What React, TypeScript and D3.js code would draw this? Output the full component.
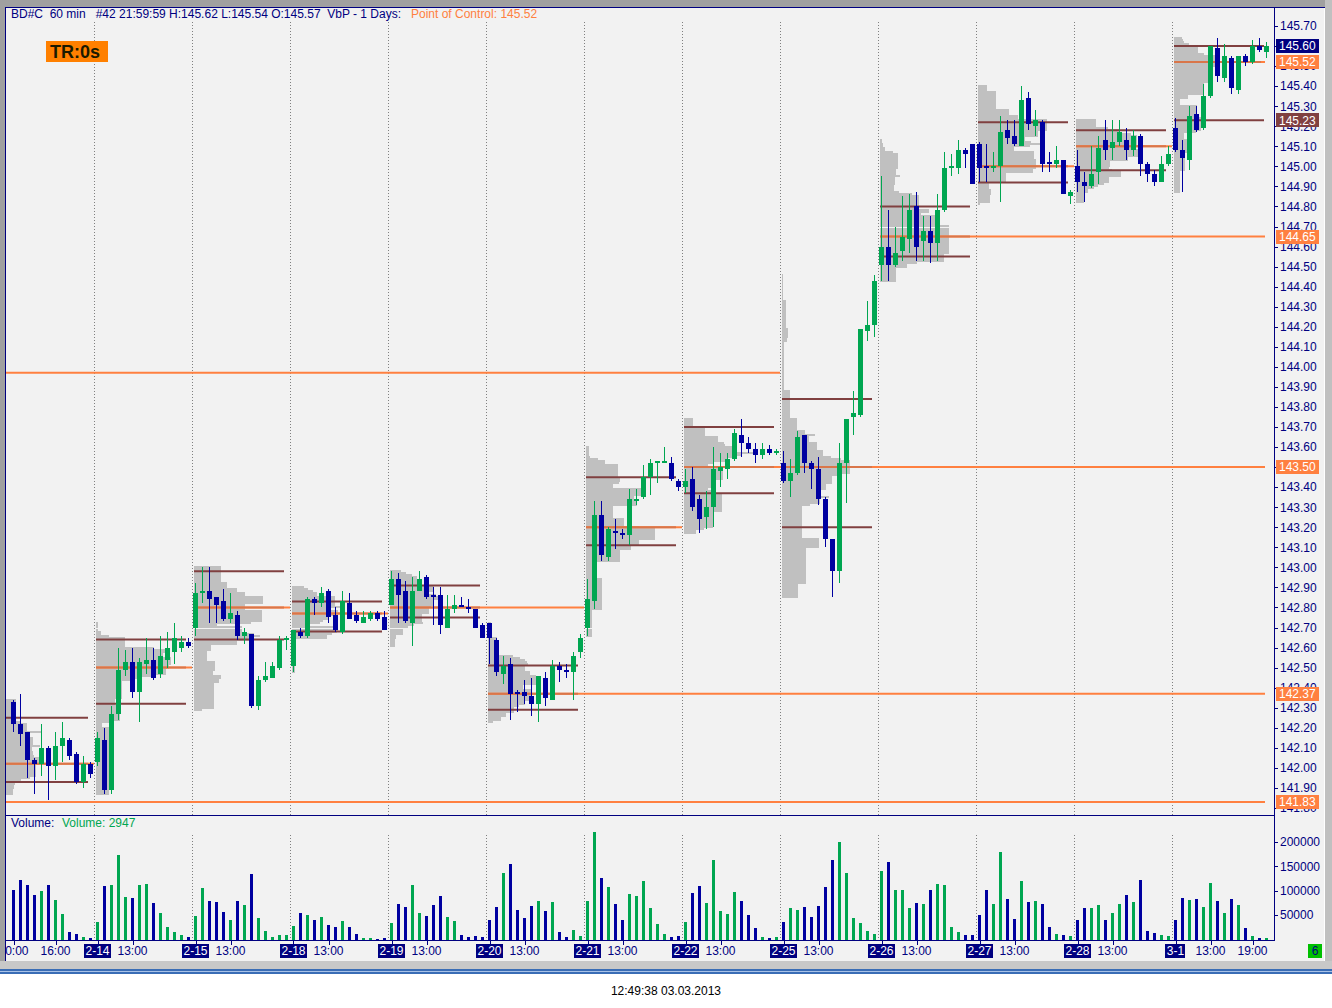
import * as d3 from 'd3'
import { useMemo } from 'react'

// ---- data (60 min bars, BD#C) ----
const DAYS = ['2-13', '2-14', '2-15', '2-18', '2-19', '2-20', '2-21', '2-22', '2-25', '2-26', '2-27', '2-28', '3-1']
const FIRST_HOUR = [10, 8, 8, 8, 8, 8, 8, 8, 8, 8, 8, 8, 8]
const BARS_PER_DAY = [12, 14, 14, 14, 14, 14, 14, 14, 14, 14, 14, 14, 14]
const HOUR_TICKS = [[10, 16], [13], [13], [13], [13], [13], [13], [13], [13], [13], [13], [13], [13, 19]]

const OPEN = [
  142.33, 142.22, 142.18, 142.04, 142.02, 142.10, 142.01, 142.11, 142.14, 142.07, 141.93, 142.02,
  142.03, 142.14, 141.89, 142.27, 142.49, 142.53, 142.38, 142.52, 142.54, 142.47, 142.54, 142.58, 142.60, 142.63,
  142.70, 142.87, 142.88, 142.85, 142.83, 142.74, 142.76, 142.66, 142.67, 142.31, 142.44, 142.45, 142.50, 142.64,
  142.51, 142.68, 142.66, 142.84, 142.82, 142.88, 142.76, 142.68, 142.82, 142.76, 142.72, 142.74, 142.77, 142.75,
  142.81, 142.94, 142.88, 142.72, 142.88, 142.95, 142.86, 142.86, 142.70, 142.79, 142.81, 142.80, 142.79, 142.71,
  142.72, 142.64, 142.47, 142.52, 142.38, 142.38, 142.36, 142.32, 142.45, 142.34, 142.51, 142.49, 142.48, 142.58,
  142.70, 142.83, 143.26, 143.05, 143.18, 143.17, 143.16, 143.33, 143.35, 143.45, 143.52, 143.52, 143.52, 143.43,
  143.40, 143.44, 143.34, 143.25, 143.30, 143.48, 143.49, 143.54, 143.66, 143.62, 143.59, 143.56, 143.59, 143.57,
  143.52, 143.43, 143.47, 143.66, 143.52, 143.49, 143.34, 143.14, 142.98, 143.52, 143.75, 143.76, 144.18, 144.21,
  144.51, 144.60, 144.51, 144.58, 144.64, 144.80, 144.63, 144.68, 144.62, 144.78, 144.99, 144.99, 145.08, 145.11,
  145.11, 145.00, 144.99, 145.00, 145.18, 145.15, 145.10, 145.34, 145.20, 145.22, 145.02, 145.01, 145.03, 144.85,
  145.00, 144.92, 144.90, 144.97, 145.13, 145.09, 145.12, 145.13, 145.08, 145.15, 145.01, 144.96, 144.92, 145.01,
  145.19, 145.08, 145.03, 145.26, 145.19, 145.35, 145.59, 145.44, 145.54, 145.38, 145.55, 145.52, 145.60, 145.57,
]
const HIGH = [
  142.34, 142.37, 142.18, 142.05, 142.22, 142.11, 142.18, 142.23, 142.15, 142.08, 142.06, 142.03,
  142.18, 142.20, 142.31, 142.60, 142.59, 142.60, 142.55, 142.65, 142.60, 142.66, 142.68, 142.72, 142.66, 142.65,
  142.92, 143.00, 143.00, 142.85, 142.89, 142.87, 142.78, 142.70, 142.67, 142.46, 142.53, 142.53, 142.66, 142.66,
  142.69, 142.70, 142.85, 142.85, 142.90, 142.89, 142.80, 142.88, 142.87, 142.78, 142.78, 142.78, 142.78, 142.78,
  142.98, 142.97, 142.93, 142.95, 142.98, 142.96, 142.90, 142.90, 142.86, 142.86, 142.85, 142.84, 142.79, 142.72,
  142.72, 142.65, 142.56, 142.55, 142.39, 142.44, 142.45, 142.46, 142.48, 142.54, 142.53, 142.52, 142.58, 142.67,
  142.94, 143.33, 143.33, 143.20, 143.24, 143.19, 143.39, 143.39, 143.51, 143.54, 143.53, 143.60, 143.55, 143.44,
  143.49, 143.50, 143.36, 143.38, 143.60, 143.57, 143.57, 143.69, 143.74, 143.65, 143.62, 143.62, 143.61, 143.59,
  143.58, 143.54, 143.68, 143.66, 143.53, 143.55, 143.35, 143.14, 143.62, 143.74, 143.88, 144.19, 144.33, 144.46,
  144.95, 144.78, 144.70, 144.85, 144.86, 144.87, 144.75, 144.75, 144.86, 145.07, 145.06, 145.13, 145.09, 145.11,
  145.12, 145.11, 145.07, 145.25, 145.23, 145.23, 145.40, 145.37, 145.28, 145.23, 145.07, 145.10, 145.03, 144.88,
  145.08, 144.97, 145.10, 145.15, 145.23, 145.23, 145.23, 145.19, 145.18, 145.16, 145.02, 144.98, 145.05, 145.10,
  145.24, 145.13, 145.30, 145.30, 145.41, 145.60, 145.64, 145.61, 145.55, 145.55, 145.56, 145.63, 145.64, 145.62,
]
const LOW = [
  142.18, 142.11, 141.95, 141.87, 141.96, 141.84, 141.94, 142.03, 142.04, 141.92, 141.90, 141.95,
  142.01, 141.87, 141.87, 142.24, 142.46, 142.35, 142.23, 142.47, 142.44, 142.45, 142.50, 142.52, 142.58, 142.60,
  142.66, 142.82, 142.72, 142.72, 142.73, 142.72, 142.64, 142.62, 142.30, 142.29, 142.43, 142.45, 142.49, 142.59,
  142.48, 142.65, 142.65, 142.76, 142.80, 142.72, 142.68, 142.67, 142.74, 142.72, 142.72, 142.73, 142.73, 142.69,
  142.81, 142.72, 142.72, 142.61, 142.88, 142.84, 142.71, 142.67, 142.70, 142.77, 142.80, 142.77, 142.70, 142.65,
  142.52, 142.46, 142.42, 142.24, 142.28, 142.32, 142.26, 142.23, 142.31, 142.34, 142.43, 142.45, 142.34, 142.55,
  142.66, 142.79, 143.03, 143.03, 143.09, 143.14, 143.11, 143.31, 143.34, 143.36, 143.42, 143.52, 143.43, 143.38,
  143.37, 143.28, 143.17, 143.19, 143.20, 143.40, 143.44, 143.53, 143.55, 143.57, 143.52, 143.54, 143.56, 143.56,
  143.42, 143.35, 143.46, 143.47, 143.39, 143.31, 143.10, 142.85, 142.92, 143.32, 143.66, 143.75, 144.13, 144.15,
  144.43, 144.43, 144.50, 144.53, 144.57, 144.53, 144.53, 144.52, 144.53, 144.77, 144.95, 144.96, 144.99, 144.91,
  144.92, 144.92, 144.97, 144.82, 145.11, 145.10, 145.10, 145.18, 145.15, 144.97, 144.97, 144.99, 144.86, 144.81,
  144.87, 144.82, 144.89, 144.91, 145.03, 145.03, 145.10, 145.03, 145.05, 144.95, 144.92, 144.90, 144.92, 145.00,
  145.07, 144.87, 144.98, 145.17, 145.18, 145.34, 145.42, 145.42, 145.36, 145.36, 145.50, 145.51, 145.57, 145.54,
]
const CLOSE = [
  142.22, 142.17, 142.04, 142.02, 142.10, 142.01, 142.11, 142.15, 142.06, 141.93, 142.02, 141.97,
  142.15, 141.89, 142.27, 142.49, 142.53, 142.38, 142.53, 142.54, 142.45, 142.56, 142.60, 142.65, 142.63, 142.61,
  142.87, 142.88, 142.84, 142.81, 142.74, 142.77, 142.66, 142.68, 142.31, 142.44, 142.46, 142.51, 142.64, 142.65,
  142.69, 142.66, 142.84, 142.82, 142.87, 142.75, 142.69, 142.83, 142.74, 142.73, 142.75, 142.77, 142.74, 142.69,
  142.94, 142.86, 142.73, 142.88, 142.94, 142.85, 142.85, 142.71, 142.79, 142.81, 142.80, 142.79, 142.70, 142.65,
  142.65, 142.48, 142.51, 142.37, 142.37, 142.36, 142.32, 142.46, 142.35, 142.51, 142.49, 142.48, 142.56, 142.65,
  142.84, 143.26, 143.06, 143.19, 143.17, 143.16, 143.34, 143.34, 143.45, 143.52, 143.53, 143.53, 143.44, 143.40,
  143.43, 143.30, 143.24, 143.30, 143.49, 143.50, 143.54, 143.67, 143.62, 143.59, 143.56, 143.59, 143.57, 143.58,
  143.43, 143.47, 143.65, 143.52, 143.49, 143.34, 143.14, 142.98, 143.52, 143.74, 143.77, 144.19, 144.21, 144.43,
  144.60, 144.51, 144.57, 144.65, 144.78, 144.60, 144.68, 144.62, 144.78, 144.99, 145.00, 145.08, 145.06, 144.91,
  144.99, 144.99, 145.00, 145.17, 145.14, 145.11, 145.33, 145.21, 145.23, 145.01, 145.01, 145.03, 144.86, 144.87,
  144.92, 144.90, 144.96, 145.09, 145.08, 145.12, 145.17, 145.08, 145.15, 145.01, 144.96, 144.92, 145.01, 145.06,
  145.08, 145.04, 145.25, 145.18, 145.35, 145.60, 145.45, 145.55, 145.39, 145.55, 145.52, 145.60, 145.58, 145.60,
]
// volume in thousands
const VOLUME_K = [
  102, 123, 111, 92, 100, 111, 82, 53, 16, 12, 6, 4,
  35, 109, 111, 174, 88, 86, 111, 113, 74, 55, 25, 16, 10, 6,
  49, 105, 78, 76, 57, 39, 80, 70, 135, 45, 18, 6, 10, 10,
  27, 55, 51, 39, 47, 29, 25, 37, 25, 12, 4, 4, 2, 4,
  33, 72, 66, 111, 55, 49, 70, 90, 47, 37, 10, 6, 8, 6,
  41, 66, 137, 154, 61, 45, 68, 80, 59, 76, 16, 6, 20, 8,
  78, 221, 127, 107, 72, 41, 94, 90, 121, 64, 31, 12, 6, 8,
  35, 96, 109, 74, 164, 59, 53, 98, 80, 51, 23, 6, 4, 6,
  35, 64, 61, 66, 47, 68, 107, 164, 199, 137, 45, 33, 18, 12,
  141, 158, 102, 102, 64, 74, 72, 102, 113, 111, 25, 16, 10, 10,
  51, 102, 72, 180, 84, 43, 119, 76, 78, 72, 25, 12, 10, 8,
  39, 64, 64, 70, 39, 55, 72, 92, 76, 123, 18, 14, 10, 8,
  41, 86, 82, 84, 66, 115, 80, 55, 84, 70, 23, 8, 4, 2.947,
]

// value area / point of control per day
const VAH = [142.25, 142.64, 142.98, 142.83, 142.91, 142.51, 143.45, 143.70, 143.84, 144.80, 145.22, 145.18, 145.60]
const POC = [142.02, 142.50, 142.80, 142.77, 142.80, 142.37, 143.20, 143.50, 143.50, 144.65, 145.00, 145.10, 145.52]
const VAL = [141.93, 142.32, 142.64, 142.68, 142.75, 142.29, 143.11, 143.37, 143.20, 144.55, 144.92, 144.98, 145.23]
// day at which each POC line stops (null = still naked, runs to the price scale)
const POC_END_DAY = [1, 2, 3, 4, 6, null, 7, null, 9, null, 11, 12, null]
const PROFILE_WIDTH = [44, 75, 69, 48, 50, 52, 69, 69, 68, 69, 69, 69, 45]
// older naked POCs from before the window
const OLD_POC = [143.97, 141.83]
const OLD_POC_END_DAY = [8, null]

const PRICE_TICKS = d3.range(0, 40).map((k) => +(141.8 + k * 0.1).toFixed(2))
const VOLUME_TICKS = [50000, 100000, 150000, 200000]

const UP = '#00a651'
const DOWN = '#0000a0'
const NAVY = '#000080'
const ORANGE = '#ff8040'
const BROWN = '#804040'
const BG = '#f2f2f2'
const FONT = '"Liberation Sans", Arial, sans-serif'

const PLOT_L = 5
const AXIS_X = 1274
const MAIN_T = 8
const MAIN_B = 815
const VOL_B = 940
const EDGE_X = 1265

const dayFirst: number[] = []
BARS_PER_DAY.reduce((acc, n, d) => { dayFirst[d] = acc; return acc + n }, 0)
const dayOf: number[] = []
BARS_PER_DAY.forEach((n, d) => { for (let k = 0; k < n; k++) dayOf.push(d) })

const charW = (s: string) => s.split('').reduce((w, ch) => w + (ch === '-' ? 4 : ch === '.' || ch === ':' ? 3.34 : 6.67), 0)

export default function App() {
  const n = OPEN.length
  const x = d3.scaleLinear().domain([0, n - 1]).range([13.5, 13.5 + 7 * (n - 1)])
  const y = d3.scaleLinear().domain([141.8, 145.7]).range([26 + 3.9 * 200.5, 26])
  const yv = d3.scaleLinear().domain([0, 200000]).range([939.5, 842])

  // day start x (8:00 slot left edge)
  const dayX = (d: number) => x(dayFirst[d] - (FIRST_HOUR[d] - 8)) - 3.5

  const profiles = useMemo(() => DAYS.map((_, d) => {
    const bins = new Map<number, number>()
    for (let i = dayFirst[d]; i < dayFirst[d] + BARS_PER_DAY[d]; i++) {
      const lo = Math.round(LOW[i] * 100)
      const hi = Math.round(HIGH[i] * 100)
      const share = VOLUME_K[i] / (hi - lo + 1)
      for (let c = lo; c <= hi; c++) bins.set(c, (bins.get(c) || 0) + share)
    }
    const rows = Array.from(bins, ([c, v]) => ({ price: c / 100, v }))
    const w = d3.scaleLinear().domain([0, d3.max(rows, (r) => r.v) || 1]).range([0, PROFILE_WIDTH[d]])
    return rows.map((r) => ({ price: r.price, w: w(r.v) }))
  }), [])

  const lastClose = CLOSE[n - 1]
  const markers: { price: number; fill: string }[] = [
    ...OLD_POC.filter((_, k) => OLD_POC_END_DAY[k] === null).map((p) => ({ price: p, fill: ORANGE })),
    ...POC.filter((_, d) => POC_END_DAY[d] === null).map((p) => ({ price: p, fill: ORANGE })),
    { price: VAL[DAYS.length - 1], fill: BROWN },
    { price: lastClose, fill: NAVY },
  ]

  const crisp = (v: number) => Math.round(v) + 0.5

  return (
    <div style={{ position: 'fixed', left: 0, top: 0 }}>
      <svg width={1332} height={1008} style={{ display: 'block', fontFamily: FONT }}>
        <defs>
          <clipPath id="mainClip"><rect x={PLOT_L + 1} y={MAIN_T} width={AXIS_X - PLOT_L - 1} height={MAIN_B - MAIN_T} /></clipPath>
        </defs>
        <rect x={0} y={0} width={1332} height={1008} fill="#ffffff" />
        <rect x={0} y={0} width={1332} height={962} fill={BG} />

        {/* day separators */}
        {DAYS.slice(1).map((_, k) => {
          const xx = crisp(dayX(k + 1))
          return (
            <g key={k} stroke="#808080" strokeWidth={1} strokeDasharray="1,2">
              <line x1={xx} x2={xx} y1={22} y2={MAIN_B} />
              <line x1={xx} x2={xx} y1={835} y2={VOL_B} />
            </g>
          )
        })}

        <g clipPath="url(#mainClip)">
          {/* volume profiles */}
          {profiles.map((rows, d) => (
            <g key={d} fill="#c0c0c0" shapeRendering="crispEdges">
              {rows.map((r) => (
                <rect key={r.price} x={dayX(d) + 2} y={Math.round(y(r.price + 0.005))} width={r.w} height={2} />
              ))}
            </g>
          ))}

          {/* older naked POCs */}
          {OLD_POC.map((p, k) => {
            const end = OLD_POC_END_DAY[k]
            return <line key={k} x1={PLOT_L} x2={end === null ? EDGE_X : dayX(end)} y1={y(p)} y2={y(p)} stroke={ORANGE} strokeWidth={2} />
          })}

          {/* value area and POC lines */}
          {DAYS.map((_, d) => {
            const x0 = dayX(d) + 2
            const end = POC_END_DAY[d]
            const pocEnd = end === null ? EDGE_X : dayX(end)
            return (
              <g key={d} strokeWidth={2}>
                <line x1={x0} x2={pocEnd} y1={y(POC[d])} y2={y(POC[d])} stroke={ORANGE} />
                <line x1={x0} x2={Math.min(x0 + 90, pocEnd - 4)} y1={y(POC[d])} y2={y(POC[d])} stroke="#d9764a" />
                <line x1={x0} x2={x0 + 90} y1={y(VAH[d])} y2={y(VAH[d])} stroke={BROWN} />
                <line x1={x0} x2={x0 + 90} y1={y(VAL[d])} y2={y(VAL[d])} stroke={BROWN} />
              </g>
            )
          })}

          {/* candles */}
          {OPEN.map((o, i) => {
            const c = CLOSE[i]
            const col = c >= o ? UP : DOWN
            const cx = x(i)
            const top = Math.round(y(Math.max(o, c)))
            const bot = Math.round(y(Math.min(o, c)))
            return (
              <g key={i} fill={col} shapeRendering="crispEdges">
                <rect x={cx - 0.5} y={Math.round(y(HIGH[i]))} width={1} height={Math.max(1, Math.round(y(LOW[i])) - Math.round(y(HIGH[i])))} />
                <rect x={cx - 2.5} y={top} width={5} height={Math.max(2, bot - top)} />
              </g>
            )
          })}
        </g>

        {/* volume bars */}
        <g shapeRendering="crispEdges">
          {VOLUME_K.map((v, i) => (
            <rect key={i} x={x(i) - 1.5} y={yv(v * 1000)} width={3} height={yv(0) - yv(v * 1000)}
              fill={CLOSE[i] >= OPEN[i] ? UP : DOWN} />
          ))}
        </g>

        {/* frame lines */}
        <g stroke={NAVY} strokeWidth={1}>
          <line x1={PLOT_L} x2={1325} y1={MAIN_T - 0.5} y2={MAIN_T - 0.5} />
          <line x1={PLOT_L + 0.5} x2={PLOT_L + 0.5} y1={MAIN_T} y2={961} />
          <line x1={AXIS_X + 0.5} x2={AXIS_X + 0.5} y1={MAIN_T} y2={VOL_B + 1} />
          <line x1={PLOT_L} x2={AXIS_X + 1} y1={MAIN_B + 0.5} y2={MAIN_B + 0.5} />
          <line x1={PLOT_L} x2={AXIS_X + 1} y1={VOL_B + 0.5} y2={VOL_B + 0.5} />
        </g>

        {/* price axis */}
        <g fontSize={12} fill={NAVY}>
          {PRICE_TICKS.map((p) => (
            <g key={p}>
              <line x1={AXIS_X + 1} x2={AXIS_X + 4} y1={crisp(y(p))} y2={crisp(y(p))} stroke={NAVY} />
              <text x={1280} y={y(p)} dy="0.36em">{p.toFixed(2)}</text>
            </g>
          ))}
          {VOLUME_TICKS.map((v) => (
            <g key={v}>
              <line x1={AXIS_X + 1} x2={AXIS_X + 4} y1={crisp(yv(v))} y2={crisp(yv(v))} stroke={NAVY} />
              <text x={1280} y={yv(v)} dy="0.36em">{v}</text>
            </g>
          ))}
        </g>
        {markers.map((m) => (
          <g key={m.price + m.fill}>
            <rect x={1276} y={Math.round(y(m.price)) - 7} width={43} height={14} fill={m.fill} />
            <text x={1279} y={y(m.price)} dy="0.36em" fontSize={12} fill="#ffffff">{m.price.toFixed(2)}</text>
          </g>
        ))}

        {/* time axis */}
        <g fontSize={12}>
          {DAYS.map((day, d) => {
            const items = [] as JSX.Element[]
            if (d > 0) {
              const cx = x(dayFirst[d])
              const w = charW(day) + 3
              items.push(
                <g key="d">
                  <line x1={crisp(cx)} x2={crisp(cx)} y1={VOL_B + 1} y2={VOL_B + 5} stroke={NAVY} />
                  <rect x={Math.round(cx - w / 2)} y={944} width={Math.round(w)} height={14} fill={NAVY} />
                  <text x={cx} y={951} dy="0.36em" textAnchor="middle" fill="#ffffff">{day}</text>
                </g>,
              )
            }
            HOUR_TICKS[d].forEach((h) => {
              const cx = x(dayFirst[d] + h - FIRST_HOUR[d])
              items.push(
                <g key={h}>
                  <line x1={crisp(cx)} x2={crisp(cx)} y1={VOL_B + 1} y2={VOL_B + 5} stroke={NAVY} />
                  <text x={cx} y={951} dy="0.36em" textAnchor="middle" fill={NAVY}>{`${h}:00`}</text>
                </g>,
              )
            })
            return <g key={day}>{items}</g>
          })}
          <rect x={1308} y={944} width={14} height={14} fill="#00c000" />
          <text x={1315} y={951} dy="0.36em" textAnchor="middle" fill={NAVY}>6</text>
        </g>

        {/* headers */}
        <text x={11} y={14} dy="0.36em" fontSize={12} fill={NAVY} style={{ whiteSpace: 'pre' }}>
          {'BD#C  60 min   #42 21:59:59 H:145.62 L:145.54 O:145.57  VbP - 1 Days:'}
        </text>
        <text x={411} y={14} dy="0.36em" fontSize={12} fill={ORANGE}>Point of Control: 145.52</text>
        <rect x={46} y={41} width={62} height={21} fill="#ff8000" />
        <text x={50} y={52} dy="0.36em" fontSize={18} fontWeight="bold" fill="#1a1a00">TR:0s</text>
        <text x={11} y={823} dy="0.36em" fontSize={12} fill={NAVY}>Volume:</text>
        <text x={62} y={823} dy="0.36em" fontSize={12} fill={UP}>Volume: 2947</text>

        {/* window chrome */}
        <rect x={0} y={0} width={1332} height={MAIN_T - 1} fill="#a0a0a0" />
        <rect x={0} y={0} width={PLOT_L} height={962} fill="#a0a0a0" />
        <rect x={1325} y={0} width={7} height={962} fill="#c0c0c0" />
        <line x1={1324.5} x2={1324.5} y1={MAIN_T} y2={962} stroke="#ffffff" />
        <rect x={0} y={961} width={1332} height={8} fill="#c8c8c8" />
        <rect x={0} y={969} width={1332} height={2} fill="#3a6db5" />
        <rect x={0} y={971} width={1332} height={1} fill="#a9c2e6" />
        <rect x={0} y={972} width={1332} height={2} fill="#3a6db5" />
        <text x={666} y={991} dy="0.36em" fontSize={12} textAnchor="middle" fill="#000000">12:49:38 03.03.2013</text>
      </svg>
    </div>
  )
}
